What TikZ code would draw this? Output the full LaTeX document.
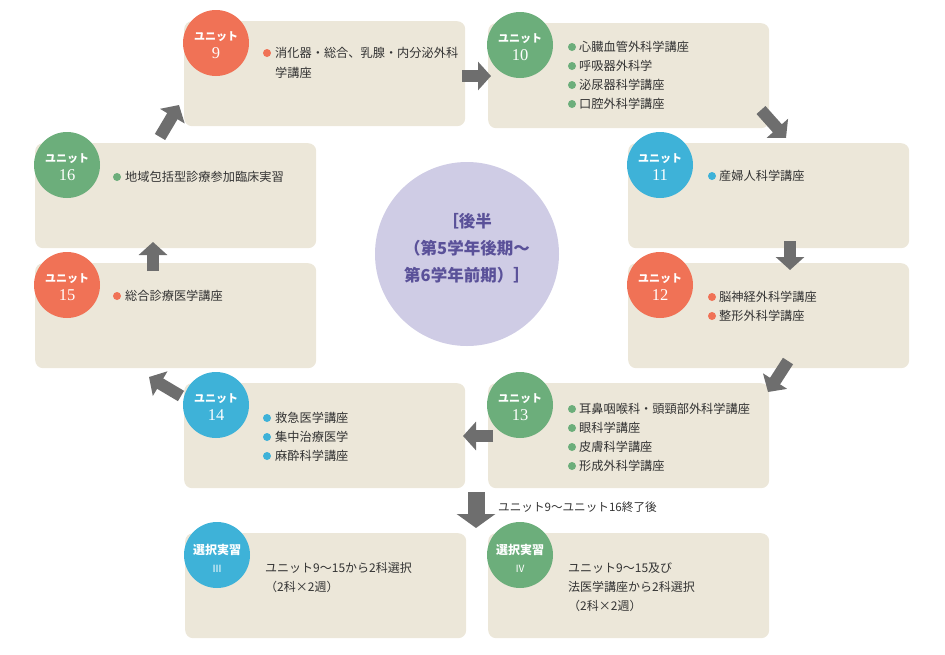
\documentclass[tikz,border=0pt]{standalone}
\usepackage{fontspec}
\setmainfont{Noto Sans CJK JP}
\newfontfamily\numfont{Liberation Serif}
\usetikzlibrary{arrows.meta}
\definecolor{boxbg}{HTML}{ECE7D9}
\definecolor{uorange}{HTML}{F07256}
\definecolor{ugreen}{HTML}{6CAE7B}
\definecolor{ublue}{HTML}{3EB2D8}
\definecolor{lav}{HTML}{CFCCE5}
\definecolor{arrowgray}{HTML}{6E6E6E}
\definecolor{txt}{HTML}{333333}
\definecolor{centertxt}{HTML}{5A5199}
\tikzset{
  box/.style={fill=boxbg, rounded corners=8pt, minimum width=281pt, minimum height=105pt, anchor=north west, inner sep=0pt, draw=none},
  unitcirc/.style={circle, minimum size=66pt, inner sep=0pt, draw=none},
  utitle/.style={text=white, font=\fontsize{11}{12}\selectfont\bfseries, inner sep=0pt},
  unum/.style={text=white, font=\fontsize{16.5}{17}\numfont, inner sep=0pt},
  roman/.style={text=white, font=\fontsize{10}{11}\selectfont, inner sep=0pt},
  item/.style={text=txt, font=\fontsize{12.2}{19}\selectfont, anchor=west, inner sep=0pt},
  note/.style={text=txt, font=\fontsize{12}{19}\selectfont, anchor=west, inner sep=0pt},
  dot/.style={circle, minimum size=8pt, inner sep=0pt, draw=none},
  flow/.style={draw=arrowgray, line width=12pt, -{Triangle[length=13pt,width=28pt]}},
  bigflow/.style={draw=arrowgray, line width=17pt, -{Triangle[length=14pt,width=38pt]}},
}
\begin{document}
\begin{tikzpicture}[x=1pt,y=-1pt]
\useasboundingbox (0,0) rectangle (945,654);
% boxes
\node[box] (b9) at (184,21) {};
\node[box] (b10) at (488,23) {};
\node[box] (b11) at (628,143) {};
\node[box] (b12) at (628,263) {};
\node[box] (b13) at (488,383) {};
\node[box] (b14) at (184,383) {};
\node[box] (b15) at (35,263) {};
\node[box] (b16) at (35,143) {};
\node[box] (b3) at (185,533) {};
\node[box] (b4) at (488,533) {};
% centre
\node[circle, fill=lav, minimum size=184pt, inner sep=0pt] (mid) at (467,254) {};
\node[text=centertxt, font=\fontsize{16.5}{27}\selectfont\bfseries, align=center, inner sep=0pt] (midtxt) at (467,248) {［後半\\（第5学年後期～\\第6学年前期）］};
% unit circles
\node[unitcirc, fill=uorange] (c9) at (216,43) {};
\node[utitle] (c9t) at (216,37) {ユニット};
\node[unum] (c9n) at (216,53) {9};
\node[unitcirc, fill=ugreen] (c10) at (520,45) {};
\node[utitle] (c10t) at (520,39) {ユニット};
\node[unum] (c10n) at (520,55) {10};
\node[unitcirc, fill=ublue] (c11) at (660,165) {};
\node[utitle] (c11t) at (660,159) {ユニット};
\node[unum] (c11n) at (660,175) {11};
\node[unitcirc, fill=uorange] (c12) at (660,285) {};
\node[utitle] (c12t) at (660,279) {ユニット};
\node[unum] (c12n) at (660,295) {12};
\node[unitcirc, fill=ugreen] (c13) at (520,405) {};
\node[utitle] (c13t) at (520,399) {ユニット};
\node[unum] (c13n) at (520,415) {13};
\node[unitcirc, fill=ublue] (c14) at (216,405) {};
\node[utitle] (c14t) at (216,399) {ユニット};
\node[unum] (c14n) at (216,415) {14};
\node[unitcirc, fill=uorange] (c15) at (67,285) {};
\node[utitle] (c15t) at (67,279) {ユニット};
\node[unum] (c15n) at (67,295) {15};
\node[unitcirc, fill=ugreen] (c16) at (67,165) {};
\node[utitle] (c16t) at (67,159) {ユニット};
\node[unum] (c16n) at (67,175) {16};
\node[unitcirc, fill=ublue] (c3) at (217,555) {};
\node[utitle, font=\fontsize{12}{13}\selectfont\bfseries] (c3t) at (217,550) {選択実習};
\node[roman] (c3n) at (217,569) {Ⅲ};
\node[unitcirc, fill=ugreen] (c4) at (520,555) {};
\node[utitle, font=\fontsize{12}{13}\selectfont\bfseries] (c4t) at (520,550) {選択実習};
\node[roman] (c4n) at (520,569) {Ⅳ};
% unit 9
\node[dot, fill=uorange] (d9a) at (267,53) {};
\node[item] (t9a) at (275,53) {消化器・総合、乳腺・内分泌外科};
\node[item] (t9b) at (275,73) {学講座};
% unit 10
\foreach \y/\t [count=\i] in {47/心臓血管外科学講座, 66/呼吸器外科学, 85/泌尿器科学講座, 104/口腔外科学講座}{
  \node[dot, fill=ugreen] (d10-\i) at (572,\y) {};
  \node[item] (t10-\i) at (579,\y) {\t};
}
% unit 11
\node[dot, fill=ublue] (d11) at (712,176) {};
\node[item] (t11) at (719,176) {産婦人科学講座};
% unit 12
\foreach \y/\t [count=\i] in {297/脳神経外科学講座, 316/整形外科学講座}{
  \node[dot, fill=uorange] (d12-\i) at (712,\y) {};
  \node[item] (t12-\i) at (719,\y) {\t};
}
% unit 13
\foreach \y/\t [count=\i] in {409/耳鼻咽喉科・頭頸部外科学講座, 428/眼科学講座, 447/皮膚科学講座, 466/形成外科学講座}{
  \node[dot, fill=ugreen] (d13-\i) at (572,\y) {};
  \node[item] (t13-\i) at (579,\y) {\t};
}
% unit 14
\foreach \y/\t [count=\i] in {418/救急医学講座, 437/集中治療医学, 456/麻酔科学講座}{
  \node[dot, fill=ublue] (d14-\i) at (267,\y) {};
  \node[item] (t14-\i) at (275,\y) {\t};
}
% unit 15
\node[dot, fill=uorange] (d15) at (117,296) {};
\node[item] (t15) at (125,296) {総合診療医学講座};
% unit 16
\node[dot, fill=ugreen] (d16) at (117,177) {};
\node[item] (t16) at (125,177) {地域包括型診療参加臨床実習};
% electives
\node[note] (t3a) at (265,568) {ユニット9～15から2科選択};
\node[note] (t3b) at (265,587) {（2科×2週）};
\node[note] (t4a) at (568,568) {ユニット9～15及び};
\node[note] (t4b) at (568,587) {法医学講座から2科選択};
\node[note] (t4c) at (568,606) {（2科×2週）};
\node[note, font=\fontsize{11.6}{14}\selectfont] (lbl) at (498,507) {ユニット9～ユニット16終了後};
% arrows
\coordinate (a1s) at (462,76);  \coordinate (a1e) at (491,76);
\coordinate (a2s) at (761,110); \coordinate (a2e) at (786,138);
\coordinate (a3s) at (790,241); \coordinate (a3e) at (790,270);
\coordinate (a4s) at (788,361); \coordinate (a4e) at (768,392);
\coordinate (a5s) at (493,436); \coordinate (a5e) at (463,436);
\coordinate (a6s) at (181,396); \coordinate (a6e) at (149,377);
\coordinate (a7s) at (153,271); \coordinate (a7e) at (153,242);
\coordinate (a8s) at (160,137); \coordinate (a8e) at (179,105);
\coordinate (a9s) at (476,492); \coordinate (a9e) at (476,528);
\draw[flow] (a1s) -- (a1e);
\draw[flow] (a2s) -- (a2e);
\draw[flow] (a3s) -- (a3e);
\draw[flow] (a4s) -- (a4e);
\draw[flow] (a5s) -- (a5e);
\draw[flow] (a6s) -- (a6e);
\draw[flow] (a7s) -- (a7e);
\draw[flow] (a8s) -- (a8e);
\draw[bigflow] (a9s) -- (a9e);
\end{tikzpicture}
\end{document}
